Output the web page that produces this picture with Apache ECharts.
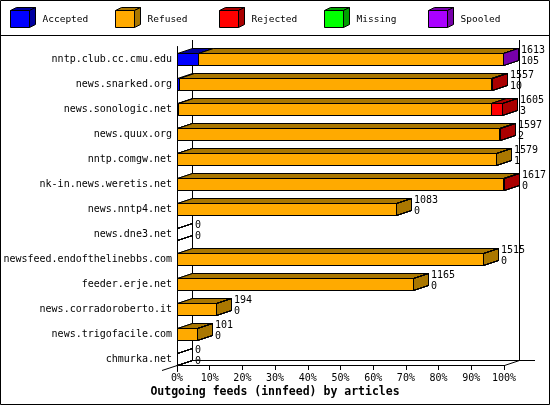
<!DOCTYPE html>
<html>
<head>
<meta charset="utf-8">
<script src="https://cdn.jsdelivr.net/npm/echarts@6/dist/echarts.min.js"></script>
<style>
  html, body { margin: 0; padding: 0; background: #fff; }
  #main { width: 550px; height: 405px; }
</style>
</head>
<body>
<div id="main"></div>
<script>
// feeds, top to bottom
var categories = ['nntp.club.cc.cmu.edu', 'news.snarked.org', 'news.sonologic.net', 'news.quux.org',
	'nntp.comgw.net', 'nk-in.news.weretis.net', 'news.nntp4.net', 'news.dne3.net',
	'newsfeed.endofthelinebbs.com', 'feeder.erje.net', 'news.corradoroberto.it',
	'news.trigofacile.com', 'chmurka.net'];

// articles offered (top label) and accepted (bottom label)
var offered  = [1613, 1557, 1605, 1597, 1579, 1617, 1083, 0, 1515, 1165, 194, 101, 0];
var accepted = [105, 10, 3, 2, 1, 0, 0, 0, 0, 0, 0, 0, 0];
var refused  = [1505, 1544, 1548, 1592, 1578, 1614, 1083, 0, 1515, 1165, 194, 101, 0];
var rejected = [0, 3, 54, 3, 0, 3, 0, 0, 0, 0, 0, 0, 0];
var missing  = [0, 0, 0, 0, 0, 0, 0, 0, 0, 0, 0, 0, 0];
var spooled  = [3, 0, 0, 0, 0, 0, 0, 0, 0, 0, 0, 0, 0];

var seriesNames = ['Accepted', 'Refused', 'Rejected', 'Missing', 'Spooled'];
var seriesValues = [accepted, refused, rejected, missing, spooled];
var frontColors = ['#0000ff', '#ffaa00', '#ff0000', '#00ff00', '#aa00ff'];
var darkColors  = ['#0000a0', '#aa7700', '#aa0000', '#00a000', '#7700aa'];

var FONT = 'DejaVu Sans Mono';
var DX = 15, DY = 5;          // 3d depth
var GL = 177, GW = 327, GT = 46.5, GH = 325;
var maxOffered = Math.max.apply(null, offered);

var px = function (v) { return Math.round(v) + 0.5; };

// 3d box for one stacked segment
var makeBox = function (idx) {
	return function (params, api) {
		var cat = api.value(0);
		var a = api.coord([api.value(1), cat]);
		var b = api.coord([api.value(2), cat]);
		var x0 = px(a[0]), x1 = px(b[0]);
		var yt = px(a[1] - 6), yb = px(a[1] + 6);
		var side = [[x1, yt], [x1 + DX, yt - DY], [x1 + DX, yb - DY], [x1, yb]];
		// empty segment: only the outline of its side
		if (api.value(2) === api.value(1)) {
			return {type: 'polygon', shape: {points: side},
				style: {fill: null, stroke: '#000', lineWidth: 1}};
		}
		return {
			type: 'group',
			children: [
				{type: 'polygon', shape: {points: [[x0, yt], [x1, yt], [x1 + DX, yt - DY], [x0 + DX, yt - DY]]},
					style: {fill: darkColors[idx], stroke: '#000', lineWidth: 1}},
				{type: 'polygon', shape: {points: side},
					style: {fill: darkColors[idx], stroke: '#000', lineWidth: 1}},
				{type: 'rect', shape: {x: x0, y: yt, width: x1 - x0, height: yb - yt},
					style: {fill: frontColors[idx], stroke: '#000', lineWidth: 1}}
			]
		};
	};
};

/* stacked segment series */
var series = [];
var base = categories.map(function () { return 0; });
seriesValues.forEach(function (vals, idx) {
	var data = [];
	for (var i = 0; i < categories.length; i++) {
		data.push([i, base[i], base[i] + vals[i]]);
		base[i] += vals[i];
	}
	series.push({
		name: seriesNames[idx],
		type: 'custom',
		renderItem: makeBox(idx),
		encode: {x: [1, 2], y: 0},
		data: data
	});
});

// numbers to the right of each bar
series.push({
	type: 'custom',
	renderItem: function (params, api) {
		var p = api.coord([api.value(1), api.value(0)]);
		var x = Math.round(p[0]) + DX + 3;
		return {
			type: 'group',
			children: [
				{type: 'text', style: {x: x, y: p[1] - 9, text: String(api.value(1)), fill: '#000',
					font: '10px ' + FONT, verticalAlign: 'middle'}},
				{type: 'text', style: {x: x, y: p[1] + 2, text: String(api.value(2)), fill: '#000',
					font: '10px ' + FONT, verticalAlign: 'middle'}}
			]
		};
	},
	encode: {x: 1, y: 0},
	data: categories.map(function (c, i) { return [i, offered[i], accepted[i]]; })
});

/* legend drawn as little cubes */
var graphics = [
	{type: 'rect', shape: {x: 0.5, y: 0.5, width: 549, height: 404},
		style: {fill: null, stroke: '#000', lineWidth: 1}, z: 100},
	{type: 'line', shape: {x1: 0, y1: 35.5, x2: 550, y2: 35.5}, style: {stroke: '#000', lineWidth: 1}}
];
seriesNames.forEach(function (name, i) {
	var lx = 10.5 + Math.round(i * 104.5), ly = 10.5, w = 19, h = 17, d = 6, e = 3;
	graphics.push({type: 'polygon', shape: {points: [[lx, ly], [lx + w, ly], [lx + w + d, ly - e], [lx + d, ly - e]]},
		style: {fill: darkColors[i], stroke: '#000', lineWidth: 1}});
	graphics.push({type: 'polygon', shape: {points: [[lx + w, ly], [lx + w + d, ly - e], [lx + w + d, ly + h - e], [lx + w, ly + h]]},
		style: {fill: darkColors[i], stroke: '#000', lineWidth: 1}});
	graphics.push({type: 'rect', shape: {x: lx, y: ly, width: w, height: h},
		style: {fill: frontColors[i], stroke: '#000', lineWidth: 1}});
	graphics.push({type: 'text', style: {x: lx + 32, y: 20, text: name, fill: '#000',
		font: '9.5px ' + FONT, verticalAlign: 'middle'}});
});

/* 3d frame around the plot */
var front = GT + GH - 6.5;
var xr = GL + GW;
var floor = front - DY;
var frame = [
	[[GL + DX + 0.5, 40], [GL + DX + 0.5, floor + 0.5]],
	[[xr + DX + 0.5, 40], [xr + DX + 0.5, floor + 0.5]],
	[[GL + DX + 0.5, floor + 0.5], [xr + DX + 16, floor + 0.5]],
	[[xr + 0.5, front + 0.5], [xr + DX + 0.5, floor + 0.5]],
	[[GL - 15, front + 5.5], [GL + DX + 0.5, floor + 0.5]]
];
frame.forEach(function (pts) {
	graphics.push({type: 'polyline', shape: {points: pts}, style: {stroke: '#000', lineWidth: 1}, z: -1});
});
graphics.push({type: 'text', style: {x: 275, y: 392, text: 'Outgoing feeds (innfeed) by articles',
	fill: '#000', font: 'bold 11.5px ' + FONT, align: 'center', verticalAlign: 'middle'}});

var option = {
	animation: false,
	backgroundColor: '#fff',
	grid: {left: GL, top: GT, width: GW, height: GH, containLabel: false},
	xAxis: {
		type: 'value',
		min: 0,
		max: maxOffered,
		interval: maxOffered / 10,
		offset: -6.5,
		splitLine: {show: false},
		axisLine: {show: true, lineStyle: {color: '#000', width: 1}},
		axisTick: {show: true, length: 5, lineStyle: {color: '#000'}},
		axisLabel: {
			color: '#000', fontFamily: FONT, fontSize: 10, margin: 8,
			formatter: function (v) { return Math.round(v / maxOffered * 100) + '%'; }
		}
	},
	yAxis: {
		type: 'category',
		data: categories,
		inverse: true,
		axisLine: {show: true, lineStyle: {color: '#000', width: 1}},
		axisTick: {show: false},
		splitLine: {show: false},
		axisLabel: {color: '#000', fontFamily: FONT, fontSize: 10, margin: 5}
	},
	graphic: graphics,
	series: series
};

var myChart = echarts.init(document.getElementById('main'));
myChart.setOption(option);
window.onresize = myChart.resize;
</script>
</body>
</html>
